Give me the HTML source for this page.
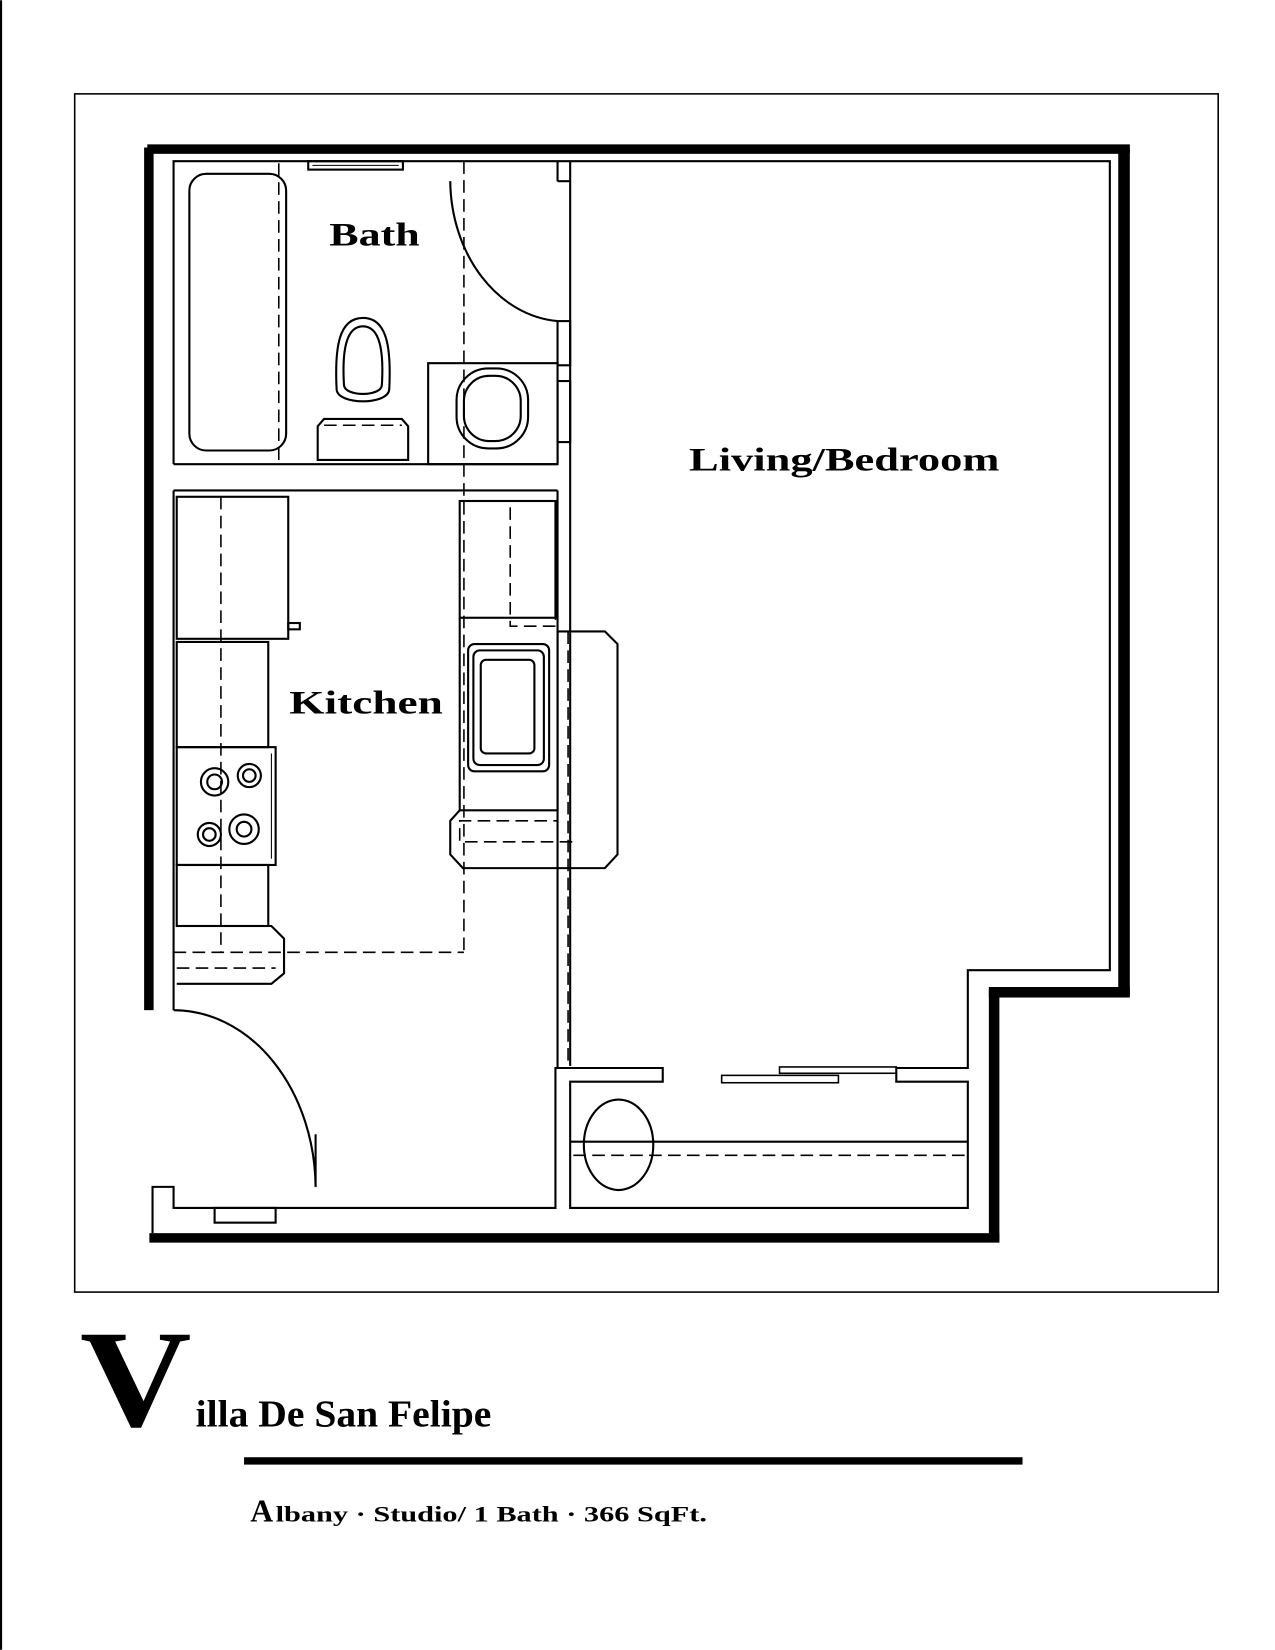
<!DOCTYPE html>
<html><head><style>html,body{margin:0;padding:0;background:#fff}svg{display:block}</style></head>
<body>
<svg width="1275" height="1650" viewBox="0 0 1212 1568" xmlns="http://www.w3.org/2000/svg" font-family="Liberation Serif, serif" font-weight="bold">
<rect width="1212" height="1568" fill="#fff"/>
<line x1="1" y1="0" x2="1" y2="1568" stroke="#000" stroke-width="2"/>
<rect x="71" y="89" width="1087" height="1139" fill="none" stroke="#000" stroke-width="1.5"/>
<g fill="#000">
<rect x="140" y="137" width="934" height="9"/>
<rect x="137" y="140" width="9" height="820"/>
<rect x="1063" y="140" width="11" height="806"/>
<rect x="940" y="938" width="134" height="10"/>
<rect x="940" y="940" width="10" height="240"/>
<rect x="142" y="1172" width="808" height="9"/>
</g>
<g fill="none" stroke="#000" stroke-width="2">
<polyline points="165,441 165,153 1055,153 1055,922 920,922 920,1015 852,1015 852,1028 920,1028 920,1148 542,1148 542,1028 630,1028 630,1015 528,1015 528,1148 165,1148 165,1128 145,1128 145,1172"/>
<line x1="165" y1="441" x2="530" y2="441"/>
<line x1="165" y1="466" x2="530" y2="466"/>
<line x1="165" y1="466" x2="165" y2="960"/>
<line x1="530" y1="153" x2="530" y2="172"/>
<line x1="542" y1="153" x2="542" y2="1013"/>
<line x1="530" y1="466" x2="530" y2="1015"/>
<rect x="530" y="305" width="12" height="42"/>
<rect x="530" y="362" width="12" height="58"/>
<line x1="530" y1="420" x2="530" y2="441"/>
<path d="M428,172 A110,135 0 0 0 530,305"/>
<line x1="530" y1="172" x2="542" y2="172"/>
<rect x="180" y="165" width="92" height="263" rx="16"/>
<rect x="293" y="153" width="90" height="8"/>
<line x1="297" y1="157" x2="379" y2="157" stroke-width="1"/>
<path d="M320,370 C318,330 322,302 345,302 C368,302 372,330 370,370 C369,385 321,385 320,370 Z"/>
<path d="M327,366 C325,333 329,310 345,310 C361,310 365,333 363,366 C362,377 328,377 327,366 Z"/>
<path d="M302,405 L308,398 L382,398 L388,405 L388,437 L302,437 Z"/>
<rect x="407" y="345" width="123" height="96"/>
<rect x="434" y="350" width="68" height="76" rx="30"/>
<rect x="441" y="357" width="54" height="62" rx="24"/>
<rect x="168" y="472" width="106" height="135"/>
<rect x="274" y="592" width="11" height="6"/>
<rect x="168" y="610" width="87" height="100"/>
<rect x="168" y="710" width="94" height="112"/>
<line x1="258" y1="716" x2="258" y2="816" stroke-width="1"/>
<circle cx="204" cy="743" r="13"/><circle cx="204" cy="743" r="7"/>
<circle cx="237" cy="737" r="11"/><circle cx="237" cy="737" r="6"/>
<circle cx="232" cy="788" r="14"/><circle cx="232" cy="788" r="7"/>
<circle cx="199" cy="793" r="11"/><circle cx="199" cy="793" r="6"/>
<rect x="168" y="822" width="87" height="58"/>
<polyline points="168,880 258,880 270,892 270,925 258,935 168,935"/>
<rect x="437" y="476" width="91" height="111"/>
<rect x="445" y="612" width="77" height="121" rx="6"/>
<rect x="450" y="618" width="67" height="109" rx="6"/>
<rect x="457" y="627" width="51" height="89" rx="5"/>
<polygon points="530,600 575,600 587,612 587,812 575,825 440,825 428,812 428,780 437,770 530,770"/>
<line x1="437" y1="587" x2="437" y2="770"/>
<path d="M165,960 A135,170 0 0 1 300,1128"/>
<line x1="300" y1="1128" x2="300" y2="1078"/>
<rect x="204" y="1148" width="58" height="14"/>
<rect x="686" y="1022" width="111" height="7" stroke-width="1.5"/>
<rect x="741" y="1014" width="111" height="6" stroke-width="1.5"/>
<line x1="542" y1="1085" x2="920" y2="1085"/>
<ellipse cx="588" cy="1088" rx="33" ry="43"/>
</g>
<g fill="none" stroke="#000" stroke-width="1.5" stroke-dasharray="12,6">
<line x1="265" y1="155" x2="265" y2="441"/>
<line x1="441" y1="153" x2="441" y2="905"/>
<line x1="165" y1="905" x2="441" y2="905"/>
<line x1="210" y1="472" x2="210" y2="905"/>
<polyline points="485,476 528,476 528,595 485,595 485,476"/>
<line x1="540" y1="600" x2="540" y2="1010"/>
<polyline points="530,610 530,780 437,780 437,800 545,800"/>
<line x1="308" y1="404" x2="382" y2="404"/>
<line x1="168" y1="920" x2="262" y2="920"/>
<line x1="545" y1="1098" x2="918" y2="1098"/>
</g>
<g fill="#000">
<text x="313" y="233" font-size="31" textLength="86" lengthAdjust="spacingAndGlyphs">Bath</text>
<text x="655" y="447" font-size="31" textLength="295" lengthAdjust="spacingAndGlyphs">Living/Bedroom</text>
<text x="275" y="678" font-size="31" textLength="146" lengthAdjust="spacingAndGlyphs">Kitchen</text>
<text x="76" y="1355" font-size="132" textLength="106" lengthAdjust="spacingAndGlyphs">V</text>
<text x="186" y="1356" font-size="36" textLength="281" lengthAdjust="spacingAndGlyphs">illa De San Felipe</text>
<rect x="232" y="1385" width="740" height="7"/>
<text x="238" y="1446" font-size="30">A</text>
<text x="262" y="1446" font-size="21" textLength="410" lengthAdjust="spacingAndGlyphs">lbany · Studio/ 1 Bath · 366 SqFt.</text>
</g>
</svg>
</body></html>
